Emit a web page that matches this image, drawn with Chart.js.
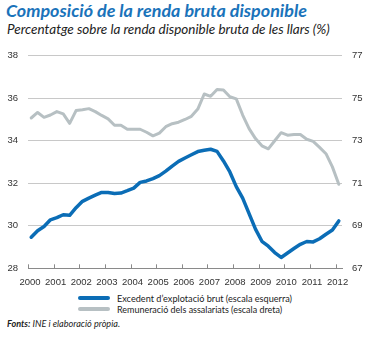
<!DOCTYPE html>
<html lang="ca">
<head>
<meta charset="utf-8">
<script src="https://cdn.jsdelivr.net/npm/chart.js@4/dist/chart.umd.min.js"></script>
<style>
  html, body { margin: 0; padding: 0; background: #fff; }
  body { width: 388px; height: 338px; position: relative; overflow: hidden; font-family: Lato, "Open Sans", sans-serif; color: #222; }
  .fit { position: absolute; white-space: nowrap; transform-origin: 0 50%; }
  #title { left: 6px; top: 0px; font-size: 17px; font-weight: 700; font-style: italic; color: #1a73ba; }
  #subtitle { left: 7px; top: 21px; font-size: 13.5px; font-style: italic; color: #222; }
  #wrap { position: absolute; left: 0; top: 40px; width: 388px; height: 250px; }
  .leg { position: absolute; left: 78px; height: 12px; }
  .leg i { position: absolute; left: 0; width: 32px; border-radius: 2px; }
  .leg span { position: absolute; left: 39px; top: 0; font-size: 10px; line-height: 12px; white-space: nowrap; transform-origin: 0 50%; color: #222; }
  #source { left: 7px; top: 317px; font-size: 10px; font-style: italic; color: #222; }
</style>
</head>
<body>
<div id="title" class="fit" data-w="301">Composició de la renda bruta disponible</div>
<div id="subtitle" class="fit" data-w="323">Percentatge sobre la renda disponible bruta de les llars (%)</div>
<div id="wrap"><canvas id="chart" width="388" height="250"></canvas></div>
<div class="leg" style="top:292px"><i style="top:4px;height:4px;background:#0b6db6"></i><span class="fitspan" data-w="175">Excedent d’explotació brut (escala esquerra)</span></div>
<div class="leg" style="top:303px"><i style="top:4px;height:3.5px;background:#b7c0c3"></i><span class="fitspan" data-w="165">Remuneració dels assalariats (escala dreta)</span></div>
<div id="source" class="fit" data-w="113"><b>Fonts:</b> INE i elaboració pròpia.</div>
<script>
// Anys (etiquetes de l'eix X) i sèries trimestrals 2000T1 - 2012T1
const years = [2000, 2001, 2002, 2003, 2004, 2005, 2006, 2007, 2008, 2009, 2010, 2011, 2012];

// Excedent d'explotació brut (% RDB, escala esquerra)
const excedent = [
  29.46, 29.77, 29.97, 30.28, 30.38, 30.52, 30.49, 30.85, 31.15, 31.30,
  31.44, 31.57, 31.57, 31.52, 31.54, 31.65, 31.77, 32.04, 32.11, 32.22,
  32.36, 32.57, 32.81, 33.03, 33.19, 33.34, 33.49, 33.55, 33.60, 33.50,
  33.05, 32.53, 31.84, 31.30, 30.57, 29.84, 29.27, 29.04, 28.74, 28.51,
  28.72, 28.93, 29.13, 29.26, 29.24, 29.39, 29.60, 29.80, 30.23
];

// Remuneració dels assalariats (% RDB, escala dreta)
const remuneracio = [
  74.07, 74.33, 74.10, 74.21, 74.37, 74.26, 73.82, 74.42, 74.46, 74.51,
  74.37, 74.19, 74.03, 73.73, 73.73, 73.54, 73.54, 73.54, 73.40, 73.23,
  73.36, 73.66, 73.80, 73.87, 74.00, 74.15, 74.49, 75.20, 75.09, 75.41,
  75.39, 75.07, 74.97, 74.21, 73.57, 73.10, 72.76, 72.62, 73.00, 73.38,
  73.26, 73.29, 73.29, 73.07, 72.97, 72.69, 72.39, 71.77, 70.95
];

const leftTicks = [28, 30, 32, 34, 36, 38];
const rightTicks = [67, 69, 71, 73, 75, 77];

// Ajustar amplada dels textos (tipografia condensada a l'original)
document.querySelectorAll('.fit, .fitspan').forEach(el => {
  const w = el.getBoundingClientRect().width;
  const target = parseFloat(el.dataset.w);
  if (w > 0) el.style.transform = 'scaleX(' + (target / w).toFixed(3) + ')';
});

// cada trimestre al centre del seu interval
const toPoints = arr => arr.map((v, i) => ({ x: years[0] + (i + 0.5) / 4, y: v }));

const tickFont = { family: '"Liberation Sans", Arial, sans-serif', size: 9.5 };
const tickColor = '#333';

// petites marques d'any cap amunt sobre l'eix X
const yearMarks = {
  id: 'yearMarks',
  afterDatasetsDraw(chart) {
    const sx = chart.scales.x;
    const ctx = chart.ctx;
    const bottom = chart.chartArea.bottom;
    ctx.save();
    ctx.strokeStyle = '#8a8a8a';
    ctx.lineWidth = 1;
    years.forEach(y => {
      const px = Math.round(sx.getPixelForValue(y)) + 0.5;
      ctx.beginPath();
      ctx.moveTo(px, bottom);
      ctx.lineTo(px, bottom - 4);
      ctx.stroke();
    });
    ctx.restore();
  }
};

new Chart(document.getElementById('chart'), {
  type: 'line',
  data: {
    datasets: [
      {
        label: 'Excedent d’explotació brut (escala esquerra)',
        data: toPoints(excedent),
        yAxisID: 'y',
        borderColor: '#0b6db6',
        borderWidth: 3.5,
        pointRadius: 0,
        tension: 0,
        borderJoinStyle: 'round',
        borderCapStyle: 'round'
      },
      {
        label: 'Remuneració dels assalariats (escala dreta)',
        data: toPoints(remuneracio),
        yAxisID: 'y2',
        borderColor: '#b7c0c3',
        borderWidth: 3,
        pointRadius: 0,
        tension: 0,
        borderJoinStyle: 'round',
        borderCapStyle: 'round'
      }
    ]
  },
  options: {
    responsive: false,
    animation: false,
    events: [],
    layout: { padding: { top: 11.7, left: 0, right: 0, bottom: 0 } },
    plugins: { legend: { display: false }, tooltip: { enabled: false } },
    scales: {
      x: {
        type: 'linear',
        min: 2000,
        max: 2012.25,
        afterBuildTicks: s => { s.ticks = years.map(v => ({ value: v })); },
        afterFit: s => { s.height = 21.7; },
        grid: { display: false, drawTicks: false },
        border: { display: true, color: '#8a8a8a', width: 1 },
        ticks: {
          color: tickColor, font: tickFont, padding: 8.5, labelOffset: 2,
          maxRotation: 0, autoSkip: false,
          callback: v => String(v)
        }
      },
      y: {
        position: 'left',
        min: 28, max: 38,
        afterBuildTicks: s => { s.ticks = leftTicks.map(v => ({ value: v })); },
        afterFit: s => { s.width = 28; },
        grid: { color: '#c8c8c8', lineWidth: 1, drawTicks: false },
        border: { display: false },
        ticks: { color: tickColor, font: tickFont, padding: 10 }
      },
      y2: {
        position: 'right',
        min: 67, max: 77,
        afterBuildTicks: s => { s.ticks = rightTicks.map(v => ({ value: v })); },
        afterFit: s => { s.width = 46; },
        grid: { display: false, drawTicks: false },
        border: { display: false },
        ticks: { color: tickColor, font: tickFont, padding: 10 }
      }
    }
  },
  plugins: [yearMarks]
});
</script>
</body>
</html>
